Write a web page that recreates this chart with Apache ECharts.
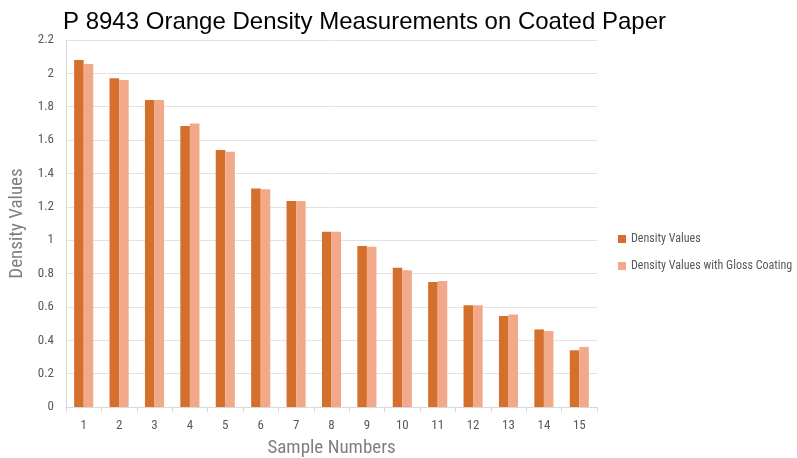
<!DOCTYPE html>
<html><head><meta charset="utf-8">
<script src="https://cdn.jsdelivr.net/npm/echarts@6/dist/echarts.min.js"></script>
<style>html,body{margin:0;padding:0;background:#fff}#c{width:797px;height:458px}</style>
</head><body><div id="c"></div>
<script>
const categories = ['1','2','3','4','5','6','7','8','9','10','11','12','13','14','15'];
const densityValues = [2.08,1.97,1.84,1.685,1.54,1.31,1.235,1.05,0.965,0.835,0.75,0.61,0.545,0.465,0.34];
const glossValues = [2.056,1.96,1.84,1.70,1.53,1.305,1.235,1.05,0.96,0.82,0.755,0.61,0.555,0.455,0.36];
const seriesNames = ['Density Values','Density Values with Gloss Coating'];
const chart = echarts.init(document.getElementById('c'));
const narrow = '"Liberation Sans Narrow","Roboto Condensed","Liberation Sans",sans-serif';
chart.setOption({
  animation:false,
  title:{text:'P 8943 Orange Density Measurements on Coated Paper',left:58,top:5,
    textStyle:{fontFamily:'"Liberation Sans",Arial,sans-serif',fontSize:24,fontWeight:'normal',color:'#000'}},
  legend:{orient:'vertical',left:613,top:228,itemWidth:8,itemHeight:8,itemGap:15,icon:'rect',
    textStyle:{fontFamily:narrow,fontSize:12,color:'#595959'},data:seriesNames},
  grid:{left:66,right:200,top:40,bottom:51,containLabel:false,outerBoundsMode:'none'},
  xAxis:{type:'category',data:categories,name:'Sample Numbers',nameLocation:'middle',nameGap:32,
    nameTextStyle:{fontFamily:narrow,fontSize:19,color:'#7f7f7f'},
    axisLine:{lineStyle:{color:'#d9d9d9'}},axisTick:{show:true,length:5,lineStyle:{color:'#d9d9d9'}},
    axisLabel:{fontFamily:narrow,fontSize:13,color:'#595959',margin:12}},
  yAxis:{type:'value',min:0,max:2.2,interval:0.2,name:'Density Values',nameLocation:'middle',nameGap:38,
    nameTextStyle:{fontFamily:narrow,fontSize:19,color:'#7f7f7f'},
    axisLine:{show:true,lineStyle:{color:'#d9d9d9'}},axisTick:{show:false},
    splitLine:{lineStyle:{color:'#e3e3e3'}},
    axisLabel:{fontFamily:narrow,fontSize:13,color:'#595959',margin:12,
      formatter:v=>String(Math.round(v*10)/10)}},
  series:[
    {name:seriesNames[0],type:'bar',data:densityValues,barGap:'0%',barCategoryGap:'46%',itemStyle:{color:'#D5702C'}},
    {name:seriesNames[1],type:'bar',data:glossValues,itemStyle:{color:'#F2A98A'}}
  ]
});
</script></body></html>
